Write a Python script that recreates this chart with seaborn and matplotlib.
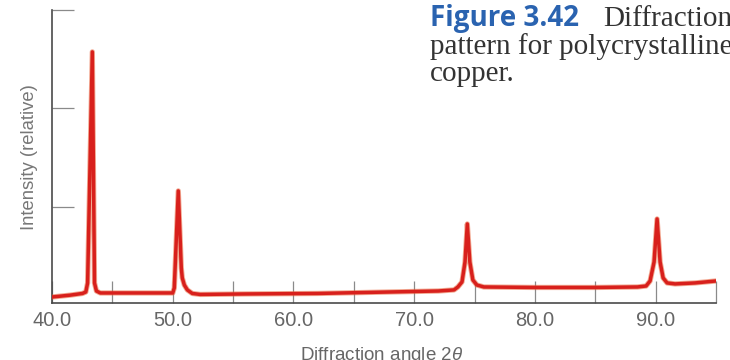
import matplotlib
matplotlib.use("Agg")
import matplotlib.pyplot as plt
import seaborn as sns
import numpy as np

# Diffraction pattern for polycrystalline copper
two_theta = [40.0, 41.52, 42.52, 42.80, 42.95, 43.34, 43.52, 43.68, 44.0, 46.0, 48.0,
             50.0, 50.13, 50.46, 50.71, 50.79, 50.96, 51.21, 51.62, 52.28,
             56.0, 62.0, 68.0, 72.0, 73.3,
             73.62, 73.96, 74.21, 74.40, 74.61, 74.86, 75.19, 75.77,
             80.0, 85.0, 88.5,
             89.21, 89.54, 89.87, 90.12, 90.37, 90.62, 90.95, 91.61, 93.27, 95.0]
intensity = [0.081, 0.100, 0.117, 0.132, 0.224, 2.574, 0.224, 0.142, 0.122, 0.122, 0.122,
             0.122, 0.173, 1.160, 0.376, 0.275, 0.203, 0.153, 0.117, 0.107,
             0.112, 0.117, 0.132, 0.142, 0.153,
             0.183, 0.234, 0.437, 0.824, 0.437, 0.254, 0.203, 0.183,
             0.178, 0.178, 0.183,
             0.193, 0.244, 0.437, 0.875, 0.437, 0.275, 0.224, 0.214, 0.224, 0.244]

x_major = [40, 50, 60, 70, 80, 90]
x_major_labels = ["40.0", "50.0", "60.0", "70.0", "80.0", "90.0"]
x_minor = [45, 55, 65, 75, 85, 95]
y_ticks = [1, 2, 3]

x_label = "Diffraction angle 2$\\theta$"
y_label = "Intensity (relative)"
cap_bold = "Figure 3.42"
cap_line1 = "Diffraction"
cap_line2 = "pattern for polycrystalline"
cap_line3 = "copper."

sns.set_style("white")
plt.rcParams["font.family"] = ["Liberation Sans", "DejaVu Sans"]
plt.rcParams["mathtext.fontset"] = "custom"
plt.rcParams["mathtext.it"] = "Liberation Sans:italic"
plt.rcParams["mathtext.rm"] = "Liberation Sans"

fig = plt.figure(figsize=(7.3, 3.6), dpi=100)
ax = fig.add_axes([52 / 730, 1 - 302.5 / 360, (716 - 52) / 730, (302.5 - 10) / 360])

sns.lineplot(x=two_theta, y=intensity, ax=ax, sort=False, estimator=None,
             color="#e8643a", linewidth=3.8, alpha=0.55, zorder=3)
sns.lineplot(x=two_theta, y=intensity, ax=ax, sort=False, estimator=None,
             color="#d8201c", linewidth=2.5, zorder=4,
             solid_joinstyle="round", solid_capstyle="round")

ax.set_xlim(40, 95)
ax.set_ylim(0.025, 3)
ax.set_xticks(x_major)
ax.set_xticklabels(x_major_labels)
ax.set_xticks(x_minor, minor=True)
ax.set_yticks(y_ticks)
ax.set_yticklabels([])

for s in ["top", "right"]:
    ax.spines[s].set_visible(False)
for s in ["left", "bottom"]:
    ax.spines[s].set_color("#4a4a4a")
    ax.spines[s].set_linewidth(1.2)

ax.tick_params(axis="x", which="both", direction="in", length=16, width=0.9,
               color="#8a8a8a", labelsize=14.5, labelcolor="#666666", pad=6,
               bottom=True)
ax.tick_params(axis="y", which="both", direction="in", length=16, width=0.9,
               color="#8a8a8a", left=True)

ax.set_xlabel(x_label, fontsize=13.5, color="#666666")
ax.xaxis.set_label_coords((382 - 52) / (716 - 52), -(360 - 302.5) / 292.5)
ax.xaxis.label.set_va("baseline")
ax.set_ylabel(y_label, fontsize=13.3, color="#777777")
ax.yaxis.set_label_coords(-(52 - 30) / 664, (302.5 - 157) / 292.5)
ax.yaxis.label.set_va("center")

cap_x = 430
fig.text(cap_x / 730, 1 - 26 / 360, cap_bold, fontsize=20, fontweight="bold",
         color="#2a63b0", family=["Open Sans", "DejaVu Sans"], va="baseline")
fig.text(603 / 730, 1 - 26 / 360, cap_line1, fontsize=21, color="#333333",
         family=["Liberation Serif", "DejaVu Serif"], va="baseline")
fig.text(cap_x / 730, 1 - 54 / 360, cap_line2, fontsize=21, color="#333333",
         family=["Liberation Serif", "DejaVu Serif"], va="baseline")
fig.text(cap_x / 730, 1 - 81 / 360, cap_line3, fontsize=21, color="#333333",
         family=["Liberation Serif", "DejaVu Serif"], va="baseline")

fig.savefig("out.png", dpi=100)
